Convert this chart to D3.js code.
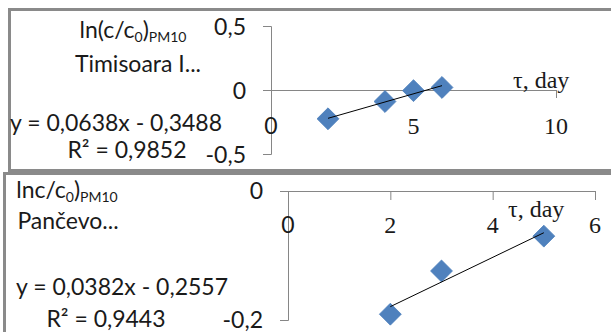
<!DOCTYPE html>
<html>
<head>
<meta charset="utf-8">
<script src="https://cdn.jsdelivr.net/npm/d3@7"></script>
<style>
  body { margin: 0; background: #fff; }
  svg { display: block; }
  .sans { font-family: Lato, "Liberation Sans", sans-serif; fill: #1a1a1a; }
  .serif { font-family: "Liberation Serif", "Times New Roman", serif; fill: #1a1a1a; }
</style>
</head>
<body>
<div id="chart"></div>
<script>
// top panel - Timisoara
var topDays = [2, 4, 5, 6];
var topLnRatio = [-0.225, -0.09, -0.005, 0.02];
var topFit = [0.0638, -0.3488]; // slope, intercept of trendline
var topXTicks = [0, 5, 10];
var topXLabels = ["0", "5", "10"];
var topYTicks = [0.5, 0, -0.5];
var topYLabels = ["0,5", "0", "-0,5"];
var topTitle = ["ln(c/c", "0", ")", "PM10"];
var topSite = "Timisoara I...";
var topEq = "y = 0,0638x - 0,3488";
var topR2 = "R² = 0,9852";

// bottom panel - Pancevo
var botDays = [2, 3, 5];
var botLnRatio = [-0.191, -0.124, -0.07];
var botFit = [0.0382, -0.2557];
var botXTicks = [0, 2, 4, 6];
var botXLabels = ["0", "2", "4", "6"];
var botYTicks = [0, -0.2];
var botYLabels = ["0", "-0,2"];
var botTitle = ["lnc/c", "0", ")", "PM10"];
var botSite = "Pančevo...";
var botEq = "y = 0,0382x - 0,2557";
var botR2 = "R² = 0,9443";

var xAxisTitle = "τ, day";

var W = 611, H = 332;
var FS = 23, SUB = 14;

var svg = d3.select("#chart")
  .append("svg")
  .attr("width", W)
  .attr("height", H);

function drawPanel(p) {
  var g = svg.append("g");

  // panel frame
  g.append("rect")
    .attr("x", p.frame[0]).attr("y", p.frame[1])
    .attr("width", p.frame[2]).attr("height", p.frame[3])
    .attr("fill", "none")
    .attr("stroke", "#8a8a8a")
    .attr("stroke-width", 3);

  var x = d3.scaleLinear().domain(p.xDomain).range(p.xRange);
  var y = d3.scaleLinear().domain(p.yDomain).range(p.yRange);

  // axes (labels drawn by hand below, excel puts them in odd spots)
  g.append("g")
    .attr("transform", "translate(" + x(0) + ",0)")
    .call(d3.axisLeft(y).tickValues(p.yTicks).tickSize(8).tickFormat(""));
  g.append("g")
    .attr("transform", "translate(0," + y(0) + ")")
    .call(d3.axisBottom(x).tickValues(p.xTicks).tickSize(p.xTickLen).tickSizeOuter(0).tickFormat(""));
  g.selectAll(".domain, .tick line").attr("stroke", "#868686");

  // y tick labels
  g.selectAll(".ylab")
    .data(p.yTicks)
    .enter()
    .append("text")
    .attr("class", "sans")
    .attr("x", p.yLabX)
    .attr("y", function (d) { return y(d) + p.yLabDy; })
    .attr("text-anchor", "end")
    .style("font-size", FS + "px")
    .text(function (d, i) { return p.yLabels[i]; });

  // x tick labels, the zero is in the sans font, the rest serif
  g.selectAll(".xlab")
    .data(p.xTicks)
    .enter()
    .append("text")
    .attr("class", function (d) { return d == 0 ? "sans" : "serif"; })
    .attr("x", function (d) { return x(d); })
    .attr("y", p.xLabY)
    .attr("text-anchor", "middle")
    .style("font-size", function (d) { return d == 0 ? FS + "px" : "24px"; })
    .text(function (d, i) { return p.xLabels[i]; });

  g.append("text")
    .attr("class", "serif")
    .attr("x", p.tauPos[0])
    .attr("y", p.tauPos[1])
    .style("font-size", "24px")
    .text(xAxisTitle);

  // title with subscripts
  var t = g.append("text")
    .attr("class", "sans")
    .attr("x", p.titlePos[0])
    .attr("y", p.titlePos[1])
    .attr("text-anchor", "middle")
    .style("font-size", FS + "px");
  t.append("tspan").text(p.title[0]);
  t.append("tspan").attr("dy", 4).style("font-size", SUB + "px").text(p.title[1]);
  t.append("tspan").attr("dy", -4).text(p.title[2]);
  t.append("tspan").attr("dy", 4).style("font-size", SUB + "px").text(p.title[3]);

  var lines = [[p.site, p.sitePos], [p.eq, p.eqPos], [p.r2, p.r2Pos]];
  lines.forEach(function (l) {
    g.append("text")
      .attr("class", "sans")
      .attr("x", l[1][0])
      .attr("y", l[1][1])
      .attr("text-anchor", "middle")
      .style("font-size", FS + "px")
      .text(l[0]);
  });

  var pts = p.days.map(function (d, i) { return [d, p.vals[i]]; });
  g.selectAll(".pt")
    .data(pts)
    .enter()
    .append("path")
    .attr("d", d3.symbol().type(d3.symbolSquare).size(240))
    .attr("transform", function (d) { return "translate(" + x(d[0]) + "," + y(d[1]) + ") rotate(45)"; })
    .attr("fill", "#4f81bd")
    .attr("stroke", "#4a7ebb")
    .attr("stroke-width", 0.75);

  // trendline over the data range, on top of the markers
  var x0 = d3.min(p.days), x1 = d3.max(p.days);
  var fitPts = [[x0, p.fit[0] * x0 + p.fit[1]], [x1, p.fit[0] * x1 + p.fit[1]]];
  g.append("path")
    .attr("d", d3.line().x(function (d) { return x(d[0]); }).y(function (d) { return y(d[1]); })(fitPts))
    .attr("stroke", "#000")
    .attr("stroke-width", 1)
    .attr("fill", "none");
}

drawPanel({
  frame: [9.5, 9.5, 640, 161],
  xDomain: [0, 10], xRange: [271, 556],
  yDomain: [-0.5, 0.5], yRange: [154, 26],
  xTicks: topXTicks, xLabels: topXLabels, xTickLen: 8,
  yTicks: topYTicks, yLabels: topYLabels,
  yLabX: 246, yLabDy: 9, xLabY: 134,
  tauPos: [513, 88],
  title: topTitle, titlePos: [133, 38],
  site: topSite, sitePos: [138, 72],
  eq: topEq, eqPos: [116, 131],
  r2: topR2, r2Pos: [127, 158],
  days: topDays, vals: topLnRatio, fit: topFit
});

drawPanel({
  frame: [4.5, 173.5, 640, 200],
  xDomain: [0, 6], xRange: [288, 595],
  yDomain: [-0.2, 0], yRange: [320, 191],
  xTicks: botXTicks, xLabels: botXLabels, xTickLen: 9,
  yTicks: botYTicks, yLabels: botYLabels,
  yLabX: 263, yLabDy: 8, xLabY: 233,
  tauPos: [508, 217],
  title: botTitle, titlePos: [67, 198],
  site: botSite, sitePos: [68, 229],
  eq: botEq, eqPos: [122, 295],
  r2: botR2, r2Pos: [106, 327],
  days: botDays, vals: botLnRatio, fit: botFit
});
</script>
</body>
</html>
